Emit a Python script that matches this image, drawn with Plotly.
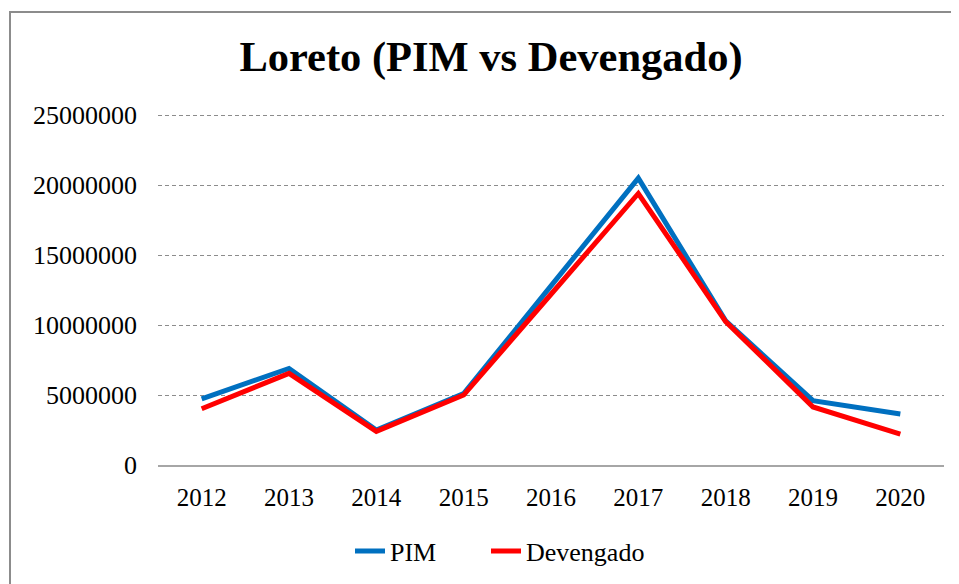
import plotly.graph_objects as go

years = ["2012", "2013", "2014", "2015", "2016", "2017", "2018", "2019", "2020"]
pim = [4720000, 6900000, 2500000, 5100000, 12800000, 20500000, 10300000, 4600000, 3650000]
devengado = [4020000, 6550000, 2400000, 5000000, 12200000, 19400000, 10250000, 4150000, 2200000]
y_ticks = [0, 5000000, 10000000, 15000000, 20000000, 25000000]

# page has an 8px body margin; work in figure coordinates
OFF = 8
W, H = 959 - OFF, 584 - OFF
L, R, T, B = 150, 15, 105, 119
FONT = "Liberation Serif, Times New Roman, serif"

fig = go.Figure()
fig.add_trace(go.Scatter(x=years, y=pim, mode="lines", name="PIM",
                         line=dict(color="#0070C0", width=5), legend="legend"))
fig.add_trace(go.Scatter(x=years, y=devengado, mode="lines", name="Devengado",
                         line=dict(color="#FF0000", width=5), legend="legend2"))

pw = W - L - R
ph = H - T - B
def px_x(p):
    return (p - OFF - L) / pw
def px_y(p):
    return (H - B - (p - OFF)) / ph

legend_common = dict(orientation="h", xref="container", yref="container",
                     xanchor="left", y=1 - (551 - OFF) / H, yanchor="middle",
                     font=dict(family=FONT, size=26, color="#000000"),
                     bgcolor="rgba(0,0,0,0)")

fig.update_layout(
    width=W, height=H,
    margin=dict(l=L, r=R, t=T, b=B, autoexpand=False),
    paper_bgcolor="white", plot_bgcolor="white",
    font=dict(family=FONT, color="#000000", size=25),
    title=dict(text="<b>Loreto (PIM vs Devengado)</b>",
               font=dict(family=FONT, size=42.5, color="#000000"),
               x=(491 - OFF) / W, xanchor="center", xref="container",
               y=1 - 48 / H, yanchor="middle", yref="container"),
    showlegend=True,
    legend=dict(x=(350 - OFF) / W, **legend_common),
    legend2=dict(x=(486 - OFF) / W, **legend_common),
    xaxis=dict(type="category", range=[-0.5, 8.5], showgrid=False, showline=True,
               linecolor="#A6A6A6", linewidth=2, ticks="", automargin=False,
               tickfont=dict(family=FONT, size=25, color="#000000"),
               ticklabelstandoff=9, zeroline=False, fixedrange=True),
    yaxis=dict(range=[0, 25150000], tickvals=y_ticks,
               ticktext=[str(v) for v in y_ticks], automargin=False,
               showgrid=True, gridcolor="#8C8C8C", gridwidth=1, griddash="4px,3px",
               showline=False, zeroline=False, ticks="",
               tickfont=dict(family=FONT, size=26, color="#000000"),
               ticklabelstandoff=20, fixedrange=True),
    shapes=[dict(type="rect", xref="paper", yref="paper",
                 x0=px_x(10), x1=px_x(975), y0=px_y(600), y1=px_y(12),
                 line=dict(color="#8C8C8C", width=2), fillcolor="rgba(0,0,0,0)",
                 layer="below")],
)

fig.write_html("out.html")
